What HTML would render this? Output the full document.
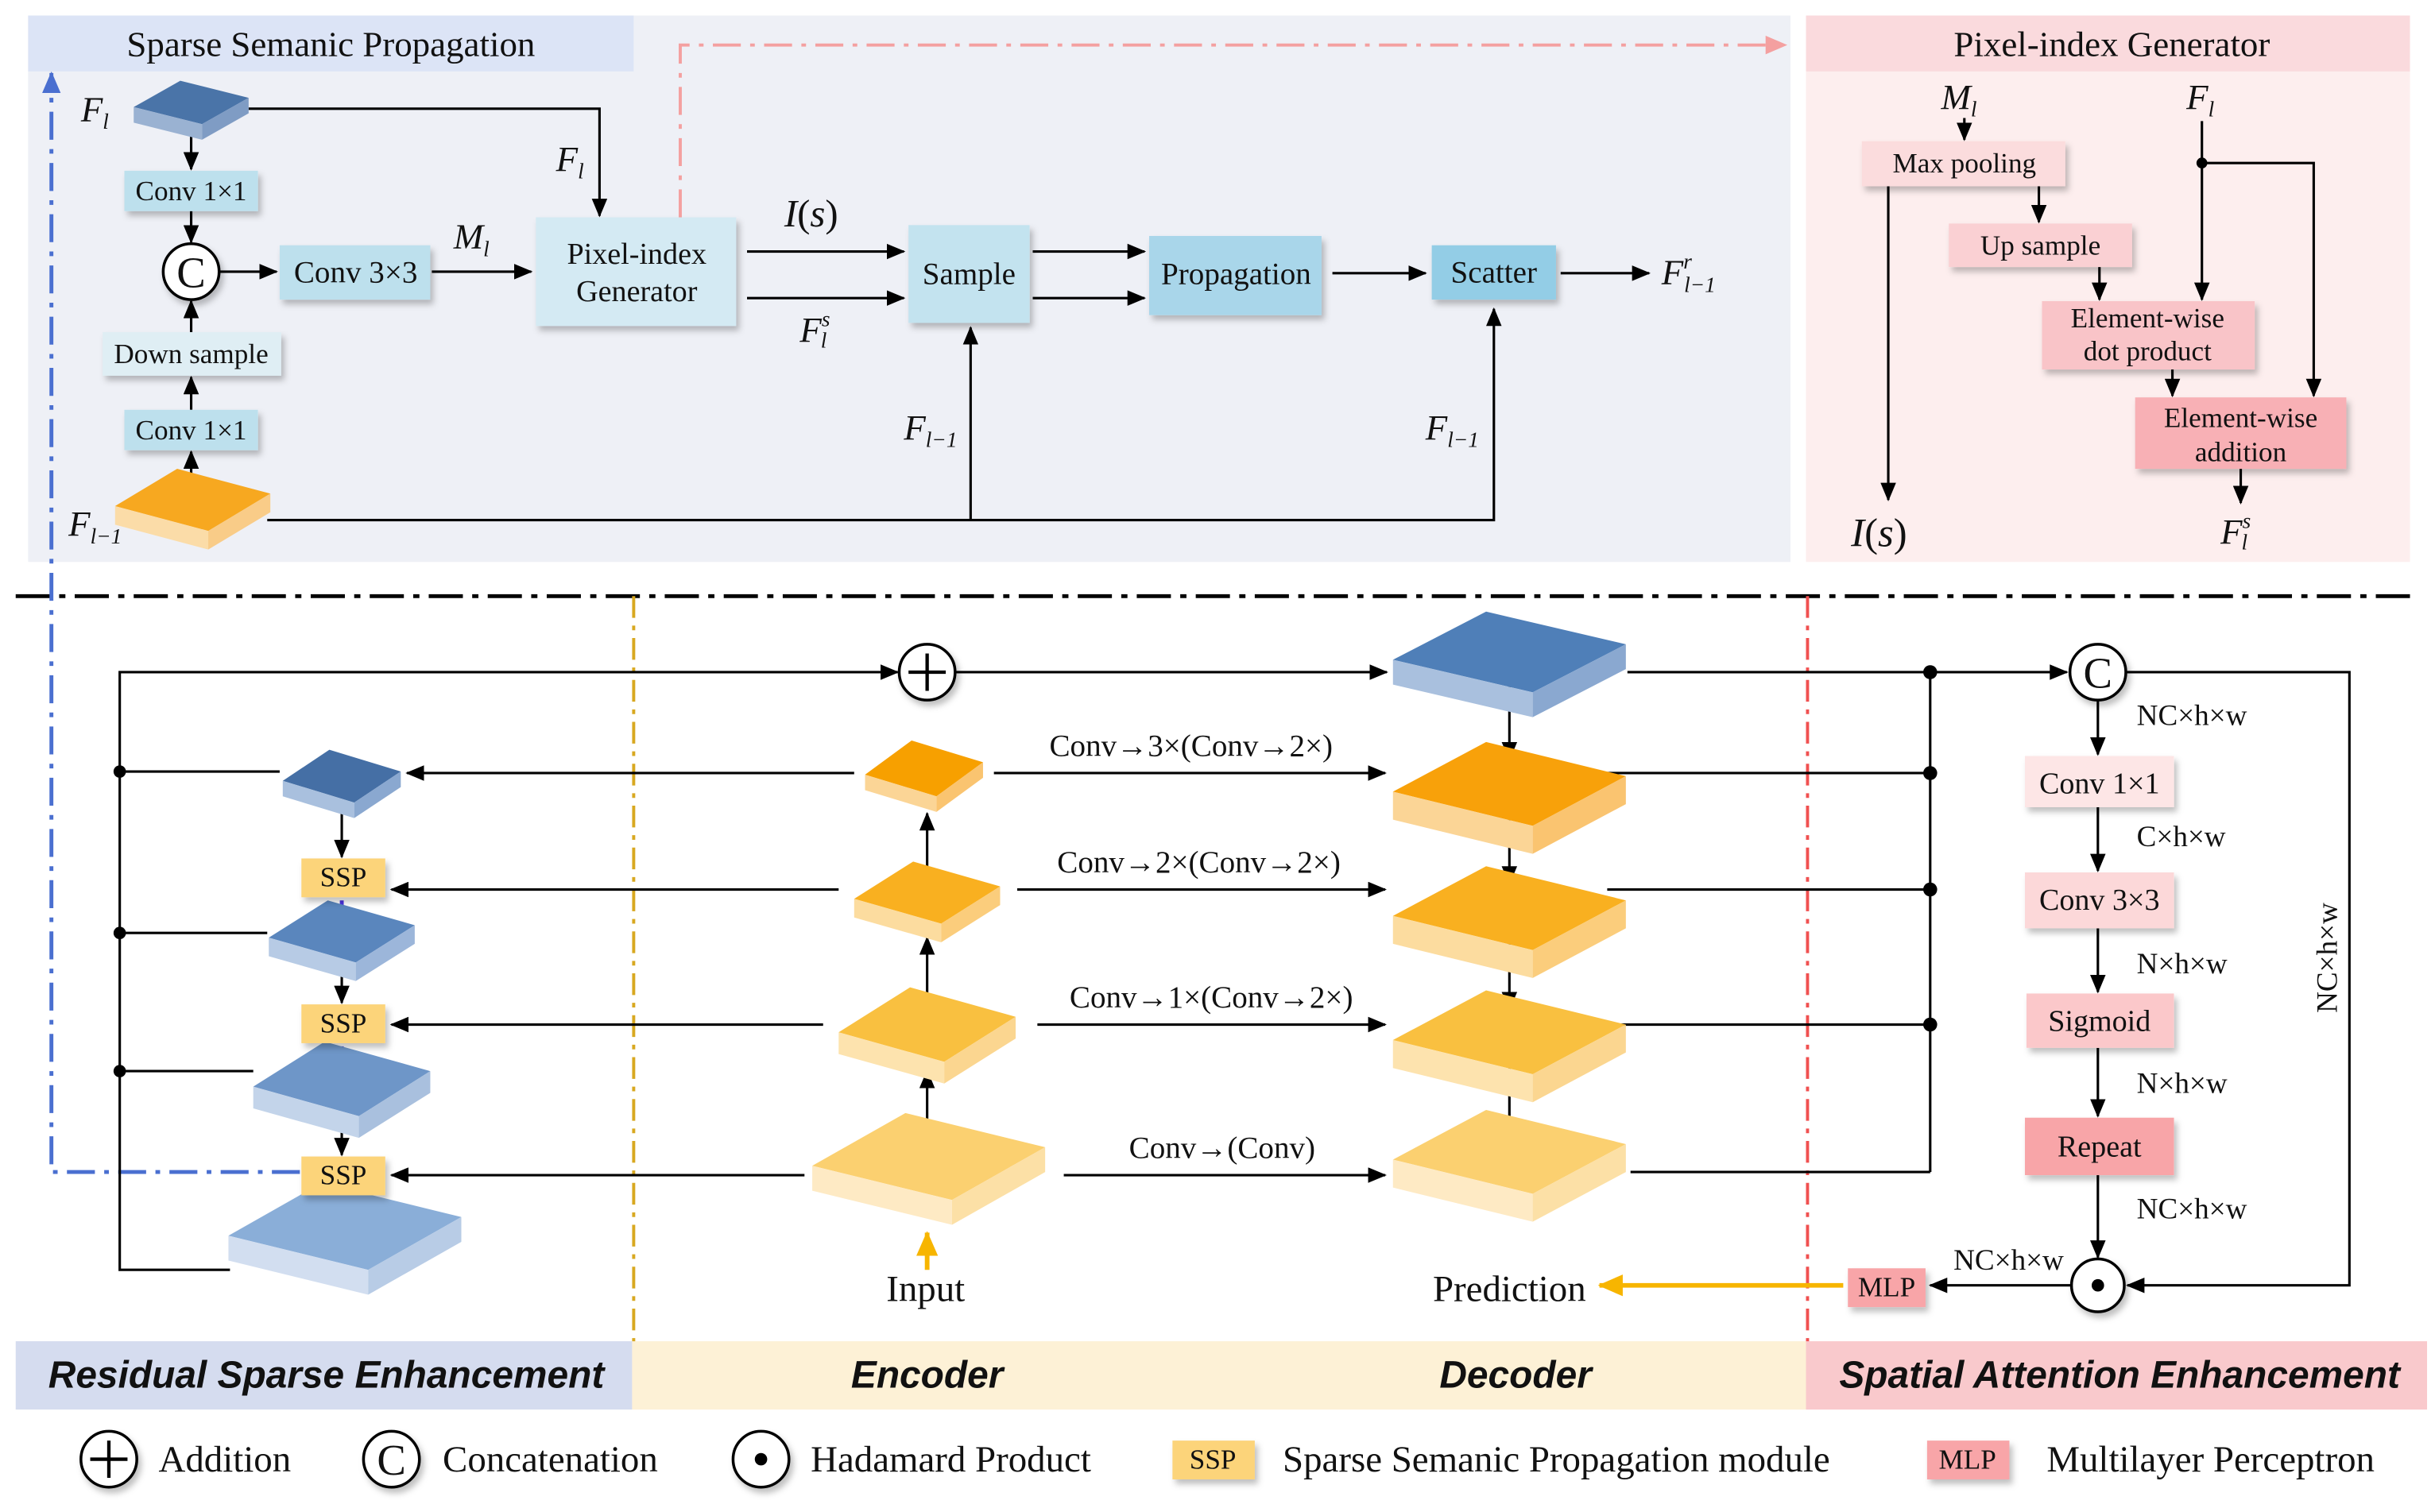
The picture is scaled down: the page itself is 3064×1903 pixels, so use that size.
<!DOCTYPE html>
<html><head><meta charset="utf-8">
<style>
html,body{margin:0;padding:0;background:#fff;}
svg{display:block;}
text{font-family:"Liberation Serif",serif;fill:#111;}
.b{font-family:"Liberation Sans",sans-serif;font-weight:bold;font-style:italic;font-size:24.5px;}
.i{font-style:italic;}
</style></head><body>
<svg width="3064" height="1903" viewBox="0 0 1568 974" xmlns="http://www.w3.org/2000/svg">
<defs>
<marker id="a" markerWidth="12" markerHeight="10" refX="11" refY="5" orient="auto" markerUnits="userSpaceOnUse"><path d="M0,0 L12,5 L0,10 z" fill="#000"/></marker>
<marker id="ap" markerWidth="14" markerHeight="12" refX="13" refY="6" orient="auto" markerUnits="userSpaceOnUse"><path d="M0,0 L14,6 L0,12 z" fill="#f4a0a0"/></marker>
<marker id="ab" markerWidth="14" markerHeight="12" refX="13" refY="6" orient="auto" markerUnits="userSpaceOnUse"><path d="M0,0 L14,6 L0,12 z" fill="#4a6fd0"/></marker>
<marker id="ay" markerWidth="16" markerHeight="14" refX="15" refY="7" orient="auto" markerUnits="userSpaceOnUse"><path d="M0,0 L16,7 L0,14 z" fill="#f7b500"/></marker>
<marker id="av" markerWidth="12" markerHeight="10" refX="11" refY="5" orient="auto" markerUnits="userSpaceOnUse"><path d="M0,0 L12,5 L0,10 z" fill="#4a33e0"/></marker>
<filter id="sh" x="-10%" y="-10%" width="130%" height="140%"><feDropShadow dx="2" dy="3" stdDeviation="2" flood-color="#000" flood-opacity="0.25"/></filter>
</defs>

<rect x="18" y="10" width="1135" height="352" fill="#eef0f6"/>
<rect x="18" y="10" width="390" height="36" fill="#dce4f6"/>
<text x="213" y="36" font-size="23" text-anchor="middle">Sparse Semanic Propagation</text>
<rect x="1163" y="10" width="389" height="352" fill="#fdeeee"/>
<rect x="1163" y="10" width="389" height="36" fill="#fadadd"/>
<text x="1360" y="36" font-size="23" text-anchor="middle">Pixel-index Generator</text>

<line x1="10" y1="384" x2="1552" y2="384" stroke="#000" stroke-width="2.5" stroke-dasharray="22,6,4,6"/>

<rect x="10" y="864" width="397" height="44" fill="#d5dcef"/>
<rect x="407" y="864" width="756" height="44" fill="#fdf1d6"/>
<rect x="1163" y="864" width="400" height="44" fill="#f9c9cc"/>
<text class="b" x="210" y="894" text-anchor="middle">Residual Sparse Enhancement</text>
<text class="b" x="597" y="894" text-anchor="middle">Encoder</text>
<text class="b" x="976" y="894" text-anchor="middle">Decoder</text>
<text class="b" x="1365" y="894" text-anchor="middle">Spatial Attention Enhancement</text>

<line x1="408" y1="384" x2="408" y2="864" stroke="#d8a820" stroke-width="2" stroke-dasharray="14,5,3,5"/>
<line x1="1164" y1="384" x2="1164" y2="864" stroke="#f05050" stroke-width="2" stroke-dasharray="14,5,3,5"/>

<polyline points="438,140 438,29 1150,29" fill="none" stroke="#f4a0a0" stroke-width="2" stroke-dasharray="18,6,3,6" marker-end="url(#ap)"/>
<polyline points="193,755 33,755 33,47" fill="none" stroke="#4a6fd0" stroke-width="2.5" stroke-dasharray="18,6,3,6" marker-end="url(#ab)"/>

<g stroke="#000" stroke-width="1.6" fill="none">
<line x1="123" y1="88" x2="123" y2="109" marker-end="url(#a)"/>
<line x1="123" y1="136" x2="123" y2="156" marker-end="url(#a)"/>
<line x1="141" y1="175" x2="178" y2="175" marker-end="url(#a)"/>
<line x1="278" y1="175" x2="342" y2="175" marker-end="url(#a)"/>
<polyline points="160,70 386,70 386,139" marker-end="url(#a)"/>
<line x1="123" y1="214" x2="123" y2="194" marker-end="url(#a)"/>
<line x1="123" y1="264" x2="123" y2="243" marker-end="url(#a)"/>
<line x1="123" y1="318" x2="123" y2="291" marker-end="url(#a)"/>
<line x1="481" y1="162" x2="582" y2="162" marker-end="url(#a)"/>
<line x1="481" y1="192" x2="582" y2="192" marker-end="url(#a)"/>
<line x1="665" y1="162" x2="737" y2="162" marker-end="url(#a)"/>
<line x1="665" y1="192" x2="737" y2="192" marker-end="url(#a)"/>
<line x1="858" y1="176" x2="918" y2="176" marker-end="url(#a)"/>
<line x1="1005" y1="176" x2="1062" y2="176" marker-end="url(#a)"/>
<polyline points="172,335 962,335 962,199" marker-end="url(#a)"/>
<line x1="625" y1="335" x2="625" y2="211" marker-end="url(#a)"/>

<line x1="1265" y1="76" x2="1265" y2="90" marker-end="url(#a)"/>
<line x1="1216" y1="120" x2="1216" y2="322" marker-end="url(#a)"/>
<line x1="1313" y1="120" x2="1313" y2="143" marker-end="url(#a)"/>
<line x1="1352" y1="172" x2="1352" y2="193" marker-end="url(#a)"/>
<line x1="1418" y1="78" x2="1418" y2="193" marker-end="url(#a)"/>
<polyline points="1418,105 1490,105 1490,255" marker-end="url(#a)"/>
<line x1="1399" y1="238" x2="1399" y2="255" marker-end="url(#a)"/>
<line x1="1443" y1="302" x2="1443" y2="324" marker-end="url(#a)"/>

<polyline points="148,818 77,818 77,433 578,433" marker-end="url(#a)"/>
<line x1="77" y1="497" x2="180" y2="497"/>
<line x1="77" y1="601" x2="172" y2="601"/>
<line x1="77" y1="690" x2="163" y2="690"/>
<line x1="615" y1="433" x2="893" y2="433" marker-end="url(#a)"/>
<line x1="1048" y1="433" x2="1331" y2="433" marker-end="url(#a)"/>
<line x1="1243" y1="433" x2="1243" y2="755"/>
<line x1="1035" y1="498" x2="1243" y2="498"/>
<line x1="1035" y1="573" x2="1243" y2="573"/>
<line x1="1035" y1="660" x2="1243" y2="660"/>
<line x1="1050" y1="755" x2="1243" y2="755"/>
<line x1="972" y1="440" x2="972" y2="489" marker-end="url(#a)"/>
<line x1="972" y1="525" x2="972" y2="569" marker-end="url(#a)"/>
<line x1="972" y1="605" x2="972" y2="650" marker-end="url(#a)"/>
<line x1="972" y1="688" x2="972" y2="737" marker-end="url(#a)"/>
<line x1="597" y1="750" x2="597" y2="690" marker-end="url(#a)"/>
<line x1="597" y1="662" x2="597" y2="604" marker-end="url(#a)"/>
<line x1="597" y1="572" x2="597" y2="524" marker-end="url(#a)"/>
<line x1="640" y1="498" x2="892" y2="498" marker-end="url(#a)"/>
<line x1="655" y1="573" x2="892" y2="573" marker-end="url(#a)"/>
<line x1="668" y1="660" x2="892" y2="660" marker-end="url(#a)"/>
<line x1="685" y1="757" x2="892" y2="757" marker-end="url(#a)"/>
<line x1="550" y1="498" x2="262" y2="498" marker-end="url(#a)"/>
<line x1="540" y1="573" x2="252" y2="573" marker-end="url(#a)"/>
<line x1="530" y1="660" x2="252" y2="660" marker-end="url(#a)"/>
<line x1="518" y1="757" x2="252" y2="757" marker-end="url(#a)"/>
<line x1="220" y1="522" x2="220" y2="552" marker-end="url(#a)"/>
<line x1="220" y1="626" x2="220" y2="646" marker-end="url(#a)"/>
<line x1="220" y1="720" x2="220" y2="744" marker-end="url(#a)"/>
<line x1="1351" y1="451" x2="1351" y2="486" marker-end="url(#a)"/>
<line x1="1351" y1="520" x2="1351" y2="561" marker-end="url(#a)"/>
<line x1="1351" y1="598" x2="1351" y2="639" marker-end="url(#a)"/>
<line x1="1351" y1="675" x2="1351" y2="719" marker-end="url(#a)"/>
<line x1="1351" y1="757" x2="1351" y2="810" marker-end="url(#a)"/>
<polyline points="1369,433 1513,433 1513,828 1370,828" marker-end="url(#a)"/>
<line x1="1334" y1="828" x2="1243" y2="828" marker-end="url(#a)"/>
</g>
<g stroke-width="2.5">
<line x1="220" y1="580" x2="220" y2="602" stroke="#4a33e0" marker-end="url(#av)"/>
<line x1="220" y1="674" x2="220" y2="696" stroke="#4a33e0" marker-end="url(#av)"/>
<line x1="220" y1="772" x2="220" y2="800" stroke="#4a33e0" marker-end="url(#av)"/>
<line x1="597" y1="818" x2="597" y2="794" stroke="#f7b500" stroke-width="3" marker-end="url(#ay)"/>
<line x1="1187" y1="828" x2="1030" y2="828" stroke="#f7b500" stroke-width="3" marker-end="url(#ay)"/>
</g>
<g fill="#000">
<circle cx="1418" cy="105" r="3.5"/>
<circle cx="77" cy="497" r="4"/><circle cx="77" cy="601" r="4"/><circle cx="77" cy="690" r="4"/>
<circle cx="1243" cy="433" r="4.5"/><circle cx="1243" cy="498" r="4.5"/><circle cx="1243" cy="573" r="4.5"/><circle cx="1243" cy="660" r="4.5"/>
</g>

<g stroke="none">
<polygon points="86,69 116,52 160,63 130,80" fill="#4a74a8"/>
<polygon points="86,69 130,80 130,90 86,79" fill="#9ab2d2"/>
<polygon points="130,80 160,63 160,73 130,90" fill="#7f9cc4"/>
<polygon points="74,326 114,302 174,318 134,342" fill="#f7a820"/>
<polygon points="74,326 134,342 134,354 74,338" fill="#fbdca8"/>
<polygon points="134,342 174,318 174,330 134,354" fill="#f9cc88"/>

<polygon points="897,425 957,394 1047,415 987,446" fill="#4f7fb8"/>
<polygon points="897,425 987,446 987,462 897,441" fill="#a9c0de"/>
<polygon points="987,446 1047,415 1047,431 987,462" fill="#8aa8d0"/>
<polygon points="897,510 957,478 1047,500 987,532" fill="#f8a10a"/>
<polygon points="897,510 987,532 987,550 897,528" fill="#fbd596"/>
<polygon points="987,532 1047,500 1047,518 987,550" fill="#fac470"/>
<polygon points="897,590 957,558 1047,580 987,612" fill="#f9b020"/>
<polygon points="897,590 987,612 987,630 897,608" fill="#fcdc9f"/>
<polygon points="987,612 1047,580 1047,598 987,630" fill="#fbcd7c"/>
<polygon points="897,670 957,638 1047,660 987,692" fill="#f9c040"/>
<polygon points="897,670 987,692 987,710 897,688" fill="#fde3ae"/>
<polygon points="987,692 1047,660 1047,678 987,710" fill="#fbd690"/>
<polygon points="897,747 957,715 1047,737 987,769" fill="#fbd070"/>
<polygon points="897,747 987,769 987,787 897,765" fill="#feeac4"/>
<polygon points="987,769 1047,737 1047,755 987,787" fill="#fce0a6"/>

<polygon points="557,499 587,477 633,491 603,513" fill="#f7a000"/>
<polygon points="557,499 603,513 603,523 557,509" fill="#fbd596"/>
<polygon points="603,513 633,491 633,501 603,523" fill="#fac470"/>
<polygon points="550,579 588,555 644,571 606,595" fill="#f9b020"/>
<polygon points="550,579 606,595 606,607 550,591" fill="#fcdc9f"/>
<polygon points="606,595 644,571 644,583 606,607" fill="#fbcd7c"/>
<polygon points="540,665 586,636 654,655 608,684" fill="#f9c040"/>
<polygon points="540,665 608,684 608,698 540,679" fill="#fde3ae"/>
<polygon points="608,684 654,655 654,669 608,698" fill="#fbd690"/>
<polygon points="523,751 583,717 673,739 613,773" fill="#fbd070"/>
<polygon points="523,751 613,773 613,789 523,767" fill="#feeac4"/>
<polygon points="613,773 673,739 673,755 613,789" fill="#fce0a6"/>

<polygon points="182,503 212,483 258,497 228,517" fill="#456fa5"/>
<polygon points="182,503 228,517 228,527 182,513" fill="#a9c0de"/>
<polygon points="228,517 258,497 258,507 228,527" fill="#8aa8d0"/>
<polygon points="173,604 211,580 267,596 229,620" fill="#5a86bd"/>
<polygon points="173,604 229,620 229,632 173,616" fill="#b7cbe5"/>
<polygon points="229,620 267,596 267,608 229,632" fill="#9cb6da"/>
<polygon points="163,700 209,671 277,690 231,719" fill="#6e96c8"/>
<polygon points="163,700 231,719 231,733 163,714" fill="#c3d4ea"/>
<polygon points="231,719 277,690 277,704 231,733" fill="#a9c0de"/>
<polygon points="147,796 207,762 297,784 237,818" fill="#8aaed8"/>
<polygon points="147,796 237,818 237,834 147,812" fill="#d2def0"/>
<polygon points="237,818 297,784 297,800 237,834" fill="#b8cce6"/>
</g>

<g filter="url(#sh)">
<rect x="80" y="110" width="86" height="26" fill="#bde0ed"/>
<rect x="180" y="158" width="97" height="35" fill="#bde0ed"/>
<rect x="66" y="214" width="115" height="28" fill="#dfeef4"/>
<rect x="80" y="264" width="86" height="26" fill="#bde0ed"/>
<rect x="345" y="140" width="129" height="70" fill="#d4eaf3"/>
<rect x="585" y="145" width="78" height="63" fill="#c3e3ef"/>
<rect x="740" y="152" width="111" height="51" fill="#a9d6ea"/>
<rect x="922" y="158" width="80" height="35" fill="#93cde6"/>
<rect x="1199" y="91" width="131" height="29" fill="#fbdcdd"/>
<rect x="1255" y="144" width="118" height="28" fill="#fad0d3"/>
<rect x="1315" y="194" width="137" height="44" fill="#f9c4c8"/>
<rect x="1375" y="256" width="136" height="46" fill="#f8b0b5"/>
<rect x="194" y="553" width="54" height="25" fill="#fcd47a"/>
<rect x="194" y="647" width="54" height="25" fill="#fcd47a"/>
<rect x="194" y="745" width="54" height="25" fill="#fcd47a"/>
<rect x="1304" y="487" width="96" height="33" fill="#fde6e6"/>
<rect x="1304" y="562" width="96" height="36" fill="#fcd8d9"/>
<rect x="1305" y="640" width="95" height="35" fill="#fbc8ca"/>
<rect x="1304" y="720" width="96" height="37" fill="#f8a5a8"/>
<rect x="1190" y="817" width="50" height="25" fill="#f8a5a8"/>
<rect x="755" y="928" width="53" height="25" fill="#fcd47a"/>
<rect x="1241" y="928" width="53" height="25" fill="#f8a5a8"/>
</g>

<g fill="#fff" stroke="#000" stroke-width="1.8" filter="url(#sh)">
<circle cx="123" cy="175" r="18"/>
<circle cx="597" cy="433" r="18"/>
<circle cx="1351" cy="433" r="18"/>
<circle cx="1351" cy="828" r="17"/>
<circle cx="70" cy="940" r="18"/>
<circle cx="252" cy="940" r="18"/>
<circle cx="490" cy="940" r="18"/>
</g>
<g stroke="#000" stroke-width="2.2">
<line x1="585" y1="433" x2="609" y2="433"/><line x1="597" y1="421" x2="597" y2="445"/>
<line x1="58" y1="940" x2="82" y2="940"/><line x1="70" y1="928" x2="70" y2="952"/>
</g>
<circle cx="1351" cy="828" r="4" fill="#000"/>
<circle cx="490" cy="940" r="4" fill="#000"/>
<g font-size="28" text-anchor="middle">
<text x="123" y="185">C</text><text x="1351" y="443">C</text><text x="252" y="950">C</text>
</g>

<g font-size="18" text-anchor="middle">
<text x="123" y="129">Conv 1×1</text>
<text x="229" y="182" font-size="20">Conv 3×3</text>
<text x="123" y="234">Down sample</text>
<text x="123" y="283">Conv 1×1</text>
<text x="410" y="170" font-size="19.5">Pixel-index</text>
<text x="410" y="194" font-size="19.5">Generator</text>
<text x="624" y="183" font-size="20">Sample</text>
<text x="796" y="183" font-size="20">Propagation</text>
<text x="962" y="182" font-size="20">Scatter</text>
<text x="1265" y="111">Max pooling</text>
<text x="1314" y="164">Up sample</text>
<text x="1383" y="211">Element-wise</text>
<text x="1383" y="232">dot product</text>
<text x="1443" y="275">Element-wise</text>
<text x="1443" y="297">addition</text>
<text x="221" y="571">SSP</text>
<text x="221" y="665">SSP</text>
<text x="221" y="763">SSP</text>
<text x="1352" y="511" font-size="19.5">Conv 1×1</text>
<text x="1352" y="586" font-size="19.5">Conv 3×3</text>
<text x="1352" y="664" font-size="19.5">Sigmoid</text>
<text x="1352" y="745" font-size="19.5">Repeat</text>
<text x="1215" y="835">MLP</text>
<text x="781" y="946">SSP</text>
<text x="1267" y="946">MLP</text>
</g>

<g font-size="23" class="i">
<text x="52" y="78" class="i">F<tspan font-size="14" dy="5">l</tspan></text>
<text x="358" y="110" class="i">F<tspan font-size="14" dy="5">l</tspan></text>
<text x="292" y="160" class="i">M<tspan font-size="14" dy="5">l</tspan></text>
<text x="44" y="345" class="i">F<tspan font-size="14" dy="5">l−1</tspan></text>
<text x="505" y="146" class="i" font-size="25">I<tspan font-style="normal">(</tspan>s<tspan font-style="normal">)</tspan></text>
<text x="515" y="220" class="i">F<tspan font-size="14" dy="-10">s</tspan><tspan font-size="14" dx="-6" dy="14">l</tspan></text>
<text x="582" y="283" class="i">F<tspan font-size="14" dy="5">l−1</tspan></text>
<text x="918" y="283" class="i">F<tspan font-size="14" dy="5">l−1</tspan></text>
<text x="1070" y="183" class="i">F<tspan font-size="14" dy="-10">r</tspan><tspan font-size="14" dx="-5" dy="15">l−1</tspan></text>
<text x="1250" y="70" class="i">M<tspan font-size="14" dy="5">l</tspan></text>
<text x="1408" y="70" class="i">F<tspan font-size="14" dy="5">l</tspan></text>
<text x="1192" y="352" class="i" font-size="26">I<tspan font-style="normal">(</tspan>s<tspan font-style="normal">)</tspan></text>
<text x="1430" y="350" class="i">F<tspan font-size="14" dy="-10">s</tspan><tspan font-size="14" dx="-6" dy="14">l</tspan></text>
</g>

<g font-size="20">
<text x="767" y="487" text-anchor="middle">Conv→3×(Conv→2×)</text>
<text x="772" y="562" text-anchor="middle">Conv→2×(Conv→2×)</text>
<text x="780" y="649" text-anchor="middle">Conv→1×(Conv→2×)</text>
<text x="787" y="746" text-anchor="middle">Conv→(Conv)</text>
</g>
<g font-size="19">
<text x="1376" y="467">NC×h×w</text>
<text x="1376" y="545">C×h×w</text>
<text x="1376" y="627">N×h×w</text>
<text x="1376" y="704">N×h×w</text>
<text x="1376" y="785">NC×h×w</text>
<text x="1258" y="818">NC×h×w</text>
<text transform="translate(1505,617) rotate(-90)" text-anchor="middle">NC×h×w</text>
</g>
<g font-size="24">
<text x="596" y="838" text-anchor="middle">Input</text>
<text x="972" y="838" text-anchor="middle">Prediction</text>
<text x="102" y="948">Addition</text>
<text x="285" y="948">Concatenation</text>
<text x="522" y="948">Hadamard Product</text>
<text x="826" y="948">Sparse Semanic Propagation module</text>
<text x="1318" y="948">Multilayer Perceptron</text>
</g>
</svg>
</body></html>
